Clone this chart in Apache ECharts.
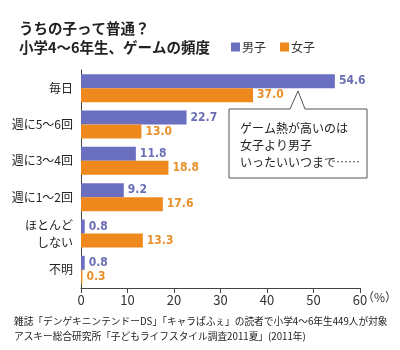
<!DOCTYPE html>
<html><head><meta charset="utf-8">
<script src="https://cdn.jsdelivr.net/npm/echarts@6/dist/echarts.min.js"></script>
<style>html,body{margin:0;padding:0;background:#fff}#c{width:400px;height:350px}</style>
</head><body><div id="c"></div>
<script>
const categories = ['毎日','週に5～6回','週に3～4回','週に1～2回','ほとんど\nしない','不明'];
const boys = [54.6, 22.7, 11.8, 9.2, 0.8, 0.8];
const girls = [37.0, 13.0, 18.8, 17.6, 13.3, 0.3];
const xTicks = [0,10,20,30,40,50,60];
const F = '"Noto Sans CJK JP", "Noto Sans", sans-serif';
const chart = echarts.init(document.getElementById('c'));
const blue = '#6b6fbf', orange = '#f0891d';
chart.setOption({
  animation:false,
  textStyle:{fontFamily:F},
  title:{text:'うちの子って普通？\n小学4～6年生、ゲームの頻度', left:14, top:14,
    textStyle:{fontSize:14.5, fontWeight:'bold', color:'#222', lineHeight:19, fontFamily:F}},
  legend:{data:['男子','女子'], left:226, top:36, itemWidth:9, itemHeight:9, itemGap:14,
    icon:'rect', textStyle:{fontSize:12, color:'#333', padding:[0,0,0,-3]}},
  grid:{left:81, right:40, top:70, bottom:62, containLabel:false},
  xAxis:{type:'value', min:0, max:60, interval:10,
    axisLine:{show:true, lineStyle:{color:'#444'}},
    axisTick:{show:true, length:5, lineStyle:{color:'#444'}},
    splitLine:{show:false},
    axisLabel:{fontSize:13, color:'#333', margin:6,
      formatter:v=> xTicks.includes(v) ? String(v) : ''}},
  yAxis:{type:'category', data:categories, inverse:true,
    axisLine:{show:true, lineStyle:{color:'#444'}},
    axisTick:{show:false},
    axisLabel:{fontSize:12, color:'#222', margin:8, lineHeight:17, align:'right'}},
  series:[
    {name:'男子', type:'bar', data:boys, barWidth:14, barGap:'0%', itemStyle:{color:blue},
     label:{show:true, position:'right', distance:4, formatter:p=>p.value.toFixed(1),
       fontSize:12, fontWeight:'bold', color:'#6a6fb5', fontFamily:'"Liberation Sans Narrow", "DejaVu Sans Condensed", sans-serif'}},
    {name:'女子', type:'bar', data:girls, barWidth:14, itemStyle:{color:orange},
     label:{show:true, position:'right', distance:4, formatter:p=>p.value.toFixed(1),
       fontSize:12, fontWeight:'bold', color:'#e8912c', fontFamily:'"Liberation Sans Narrow", "DejaVu Sans Condensed", sans-serif'}}
  ],
  graphic:[
    {type:'text', left:362, top:291, style:{text:'（%）', fontSize:12, fill:'#333', fontFamily:F}},
    {type:'polygon', shape:{points:[[229,109],[290,109],[298,91],[305,109],[367,109],[367,178],[229,178]]},
      style:{fill:'#fff', stroke:'#555', lineWidth:1}},
    {type:'text', left:240, top:120, style:{text:'ゲーム熱が高いのは\n女子より男子\nいったいいつまで……', fontSize:12, lineHeight:17, fill:'#222', fontFamily:F}},
    {type:'text', left:14, top:314, style:{text:'雑誌「デンゲキニンテンドーDS」「キャラぱふぇ」の読者で小学4～6年生449人が対象\nアスキー総合研究所「子どもライフスタイル調査2011夏」(2011年)',
      fontSize:9.7, lineHeight:15, fill:'#222', fontFamily:F}}
  ]
});
</script></body></html>
